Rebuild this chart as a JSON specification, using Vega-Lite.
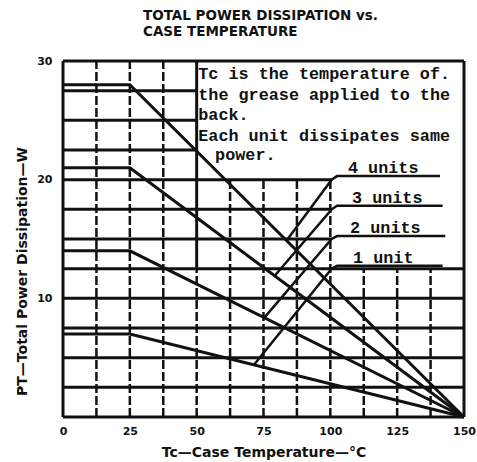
{
  "$schema": "https://vega.github.io/schema/vega-lite/v6.json",
  "width": 401,
  "height": 356,
  "autosize": {"type": "none"},
  "padding": {"left": 63, "top": 61, "right": 13, "bottom": 45},
  "background": "white",
  "config": {"view": {"stroke": null}, "font": "DejaVu Sans"},
  "title": {
    "text": ["TOTAL POWER DISSIPATION vs.", "CASE TEMPERATURE"],
    "anchor": "start",
    "frame": "group",
    "dx": 80,
    "offset": 17,
    "font": "DejaVu Sans",
    "fontSize": 13.5,
    "fontWeight": "bold",
    "lineHeight": 16,
    "color": "#111"
  },
  "datasets": {
    "curves": [
      {"units": "4 units", "t": 0, "p": 28}, {"units": "4 units", "t": 25, "p": 28}, {"units": "4 units", "t": 150, "p": 0},
      {"units": "3 units", "t": 0, "p": 21}, {"units": "3 units", "t": 25, "p": 21}, {"units": "3 units", "t": 150, "p": 0},
      {"units": "2 units", "t": 0, "p": 14}, {"units": "2 units", "t": 25, "p": 14}, {"units": "2 units", "t": 150, "p": 0},
      {"units": "1 unit", "t": 0, "p": 7}, {"units": "1 unit", "t": 25, "p": 7}, {"units": "1 unit", "t": 150, "p": 0}
    ],
    "leaders": [
      {"units": "4 units", "t": 141, "p": 20.3}, {"units": "4 units", "t": 102.5, "p": 20.3}, {"units": "4 units", "t": 100.5, "p": 20}, {"units": "4 units", "t": 83.7, "p": 14.9},
      {"units": "3 units", "t": 142, "p": 17.8}, {"units": "3 units", "t": 102.5, "p": 17.8}, {"units": "3 units", "t": 100.5, "p": 17.5}, {"units": "3 units", "t": 79.2, "p": 11.9},
      {"units": "2 units", "t": 143, "p": 15.25}, {"units": "2 units", "t": 102.5, "p": 15.25}, {"units": "2 units", "t": 100.5, "p": 15}, {"units": "2 units", "t": 75.4, "p": 8.4},
      {"units": "1 unit", "t": 142, "p": 12.75}, {"units": "1 unit", "t": 102.5, "p": 12.75}, {"units": "1 unit", "t": 100.5, "p": 12.5}, {"units": "1 unit", "t": 71.6, "p": 4.45}
    ],
    "hgrid": [
      {"p": 0, "t": 0, "t2": 150}, {"p": 2.5, "t": 0, "t2": 150}, {"p": 5, "t": 0, "t2": 150},
      {"p": 7.5, "t": 0, "t2": 150}, {"p": 10, "t": 0, "t2": 150}, {"p": 12.5, "t": 0, "t2": 150},
      {"p": 15, "t": 0, "t2": 100.5}, {"p": 17.5, "t": 0, "t2": 100.5}, {"p": 20, "t": 0, "t2": 100.5},
      {"p": 22.5, "t": 0, "t2": 50}, {"p": 25, "t": 0, "t2": 50}, {"p": 27.5, "t": 0, "t2": 50},
      {"p": 30, "t": 0, "t2": 150}
    ],
    "vgrid": [
      {"t": 12.5, "p": 0, "p2": 30}, {"t": 25, "p": 0, "p2": 30}, {"t": 37.5, "p": 0, "p2": 30},
      {"t": 50, "p": 0, "p2": 12.5},
      {"t": 62.5, "p": 0, "p2": 20}, {"t": 75, "p": 0, "p2": 20}, {"t": 87.5, "p": 0, "p2": 20}, {"t": 100, "p": 0, "p2": 20},
      {"t": 112.5, "p": 0, "p2": 12.5}, {"t": 125, "p": 0, "p2": 12.5}, {"t": 137.5, "p": 0, "p2": 12.5}
    ],
    "border": [
      {"t": 0, "p": 0, "p2": 30}, {"t": 150, "p": 0, "p2": 30}, {"t": 50, "p": 12.5, "p2": 30}
    ],
    "notes": [
      {"text": "Tc is the temperature of.", "t": 50.6, "p": 28.5},
      {"text": "the grease applied to the", "t": 50.6, "p": 26.75},
      {"text": "back.", "t": 50.6, "p": 25.05},
      {"text": "Each unit dissipates same", "t": 50.6, "p": 23.25},
      {"text": "power.", "t": 56.9, "p": 21.65}
    ],
    "labels": [
      {"text": "4 units", "t": 106.6, "p": 20.55},
      {"text": "3 units", "t": 108.1, "p": 18.05},
      {"text": "2 units", "t": 107.4, "p": 15.5},
      {"text": "1 unit", "t": 108.5, "p": 13.0}
    ]
  },
  "encoding": {
    "x": {
      "field": "t", "type": "quantitative",
      "scale": {"domain": [0, 150], "nice": false, "zero": false},
      "axis": {
        "values": [0, 25, 50, 75, 100, 125, 150],
        "domain": false, "ticks": false, "grid": false,
        "labelFont": "DejaVu Sans", "labelFontSize": 11, "labelFontWeight": "bold", "labelColor": "#111",
        "labelPadding": 8, "labelFlush": false,
        "title": "Tc—Case Temperature—°C",
        "titleFont": "DejaVu Sans", "titleFontSize": 14, "titleFontWeight": "bold", "titleColor": "#111",
        "titlePadding": 9
      }
    },
    "y": {
      "field": "p", "type": "quantitative",
      "scale": {"domain": [0, 30], "nice": false, "zero": false},
      "axis": {
        "values": [10, 20, 30],
        "domain": false, "ticks": false, "grid": false,
        "labelFont": "DejaVu Sans", "labelFontSize": 11, "labelFontWeight": "bold", "labelColor": "#111",
        "labelPadding": 11,
        "title": "PT—Total Power Dissipation—W",
        "titleFont": "DejaVu Sans", "titleFontSize": 14, "titleFontWeight": "bold", "titleColor": "#111",
        "titleX": -41, "titleY": 210, "titleBaseline": "middle"
      }
    }
  },
  "layer": [
    {
      "data": {"name": "hgrid"},
      "mark": {"type": "rule", "color": "#111", "strokeWidth": 3},
      "encoding": {"x2": {"field": "t2"}}
    },
    {
      "data": {"name": "vgrid"},
      "mark": {"type": "rule", "color": "#111", "strokeWidth": 2.5, "strokeDash": [9, 3]},
      "encoding": {"y2": {"field": "p2"}}
    },
    {
      "data": {"name": "border"},
      "mark": {"type": "rule", "color": "#111", "strokeWidth": 3},
      "encoding": {"y2": {"field": "p2"}}
    },
    {
      "data": {"name": "curves"},
      "mark": {"type": "line", "color": "#111", "strokeWidth": 3},
      "encoding": {"detail": {"field": "units"}}
    },
    {
      "data": {"name": "leaders"},
      "mark": {"type": "line", "color": "#111", "strokeWidth": 2.5},
      "encoding": {"detail": {"field": "units"}}
    },
    {
      "data": {"name": "notes"},
      "mark": {"type": "text", "align": "left", "baseline": "alphabetic", "font": "Liberation Mono", "fontSize": 16.8, "fontWeight": "bold", "color": "#111"},
      "encoding": {"text": {"field": "text"}}
    },
    {
      "data": {"name": "labels"},
      "mark": {"type": "text", "align": "left", "baseline": "alphabetic", "font": "Liberation Mono", "fontSize": 16.8, "fontWeight": "bold", "color": "#111"},
      "encoding": {"text": {"field": "text"}}
    }
  ]
}
